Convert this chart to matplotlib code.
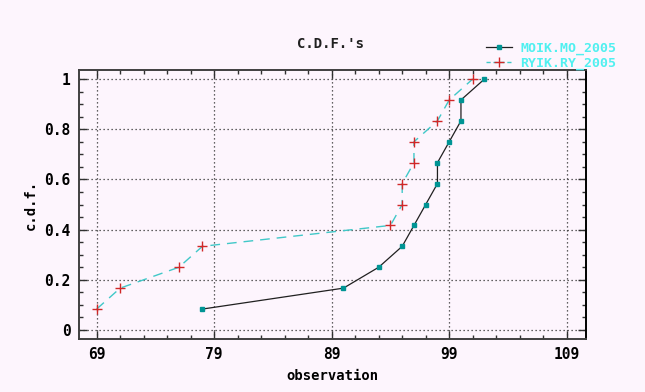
import numpy as np
import matplotlib
matplotlib.use("Agg")
import matplotlib.pyplot as plt
from matplotlib.ticker import MultipleLocator, FixedLocator
from matplotlib.lines import Line2D

# Sorted observations for each station/year
moik_obs = [78, 90, 93, 95, 96, 97, 98, 98, 99, 100, 100, 102]
ryik_obs = [69, 71, 76, 78, 94, 95, 95, 96, 96, 98, 99, 101]
series_names = ["MOIK.MO_2005", "RYIK.RY_2005"]
x_ticks = [69, 79, 89, 99, 109]
y_ticks = [0, 0.2, 0.4, 0.6, 0.8, 1]
y_tick_labels = ["0", "0.2", "0.4", "0.6", "0.8", "1"]

def ecdf(values):
    v = np.sort(np.asarray(values, dtype=float))
    return v, np.arange(1, len(v) + 1) / len(v)

bg = "#fdf5fd"
mono = "DejaVu Sans Mono"

fig = plt.figure(figsize=(6.45, 3.92), dpi=100, facecolor=bg)
ax = fig.add_axes([0.1225, 0.1352, 0.7853, 0.6862], facecolor=bg)

mx, my = ecdf(moik_obs)
rx, ry = ecdf(ryik_obs)

ax.plot(mx, my, color="#202020", lw=0.9, marker="s", ms=2.6,
        mfc="#009494", mec="#009494", zorder=3)
ax.plot(rx, ry, color="#40c8c8", lw=1.0, dashes=(7, 5), zorder=2)
ax.plot(rx, ry, ls="none", marker="+", ms=6.5, mew=1.0,
        color="#d02828", zorder=4)

ax.set_xlim(67.5, 110.6)
ax.set_ylim(-0.036, 1.036)
ax.xaxis.set_major_locator(FixedLocator(x_ticks))
ax.xaxis.set_minor_locator(FixedLocator(np.arange(69, 111, 2)))
ax.yaxis.set_major_locator(FixedLocator(y_ticks))
ax.yaxis.set_minor_locator(MultipleLocator(0.05))
ax.set_yticklabels(y_tick_labels)

ax.grid(True, which="major", color="#303030", lw=0.9, ls=(0, (1, 2.2)))
ax.tick_params(which="both", direction="in", top=True, right=True,
               color="#303030", width=1.0)
ax.tick_params(which="major", length=5.5, labelsize=10.5, pad=6)
ax.tick_params(which="minor", length=3.2)
for lab in ax.get_xticklabels() + ax.get_yticklabels():
    lab.set_fontfamily(mono)
    lab.set_fontweight("bold")

for side in ["left", "bottom", "top", "right"]:
    ax.spines[side].set_linewidth(1.4)
    ax.spines[side].set_color("#404040")
ax.spines["right"].set_color("#000000")

ax.set_xlabel("observation", fontfamily=mono, fontweight="bold",
              fontsize=10, labelpad=5)
ax.set_ylabel("c.d.f.", fontfamily=mono, fontweight="bold",
              fontsize=10, labelpad=5)
fig.text(0.512, 0.888, "C.D.F.'s", ha="center", va="center",
         fontfamily=mono, fontweight="bold", fontsize=10, color="#202020")

handles = [
    Line2D([], [], color="#202020", lw=0.9, marker="s", ms=2.6,
           mfc="#009494", mec="#009494"),
    Line2D([], [], color="#40c8c8", lw=1.0, dashes=(3, 2), marker="+",
           ms=6.5, mew=1.0, mec="#d02828"),
]
leg = fig.legend(handles, series_names, loc="upper left",
                 bbox_to_anchor=(0.735, 0.925), frameon=False,
                 handlelength=2.0, handletextpad=0.6, labelspacing=0.15,
                 prop={"family": mono, "weight": "bold", "size": 9.5})
for t in leg.get_texts():
    t.set_color("#50f0f0")

fig.savefig("out.png", dpi=100, facecolor=bg)
